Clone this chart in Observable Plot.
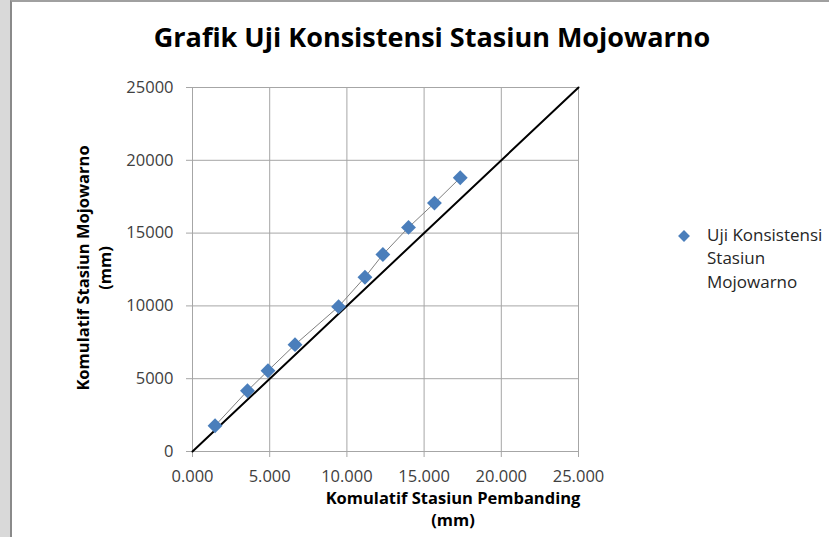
<!DOCTYPE html>
<html><head><meta charset="utf-8">
<script src="https://cdn.jsdelivr.net/npm/d3@7"></script>
<script src="https://cdn.jsdelivr.net/npm/@observablehq/plot@0.6"></script>
<style>
html,body{margin:0;padding:0;background:#fff;width:829px;height:537px;overflow:hidden;}
#strip{position:absolute;left:0;top:0;width:10px;height:537px;background:#d9d9d9;}
#frame{position:absolute;left:10px;top:0;width:819px;height:537px;border-left:2px solid #8a8a8a;border-top:2px solid #a0a0a0;box-sizing:border-box;background:#fff;}
#chart{position:absolute;left:0;top:0;}
</style></head>
<body><div id="strip"></div><div id="frame"></div><div id="chart"></div>
<script>
const title = "Grafik Uji Konsistensi Stasiun Mojowarno";
const legendLines = ["Uji Konsistensi", "Stasiun", "Mojowarno"];
const xTitle = ["Komulatif Stasiun Pembanding", "(mm)"];
const yTitle = ["Komulatif Stasiun Mojowarno", "(mm)"];
const komulatifPembanding = [1460, 3560, 4890, 6640, 9460, 11170, 12330, 13990, 15670, 17340];
const komulatifMojowarno = [1770, 4170, 5550, 7340, 9950, 11970, 13530, 15390, 17060, 18800];
const refX = [0, 25000];
const refY = [0, 25000];
const xTicks = [0, 5000, 10000, 15000, 20000, 25000];
const xTickLabels = ["0.000", "5.000", "10.000", "15.000", "20.000", "25.000"];
const yTicks = [0, 5000, 10000, 15000, 20000, 25000];
const yTickLabels = ["0", "5000", "10000", "15000", "20000", "25000"];

const data = komulatifPembanding.map((x, i) => ({x, y: komulatifMojowarno[i]}));
const ref = refX.map((x, i) => ({x, y: refY[i]}));
const font = "'Open Sans', sans-serif";
const gridColor = "#a6a6a6";
const textColor = "#404040";

const plot = Plot.plot({
  width: 829, height: 537,
  marginLeft: 192, marginRight: 251, marginTop: 87, marginBottom: 86,
  style: {fontFamily: font, fontSize: "16.5px", color: textColor, background: "transparent", overflow: "visible"},
  x: {domain: [0, 25000], label: null},
  y: {domain: [0, 25000], label: null},
  marks: [
    Plot.gridX(xTicks, {stroke: gridColor, strokeOpacity: 1}),
    Plot.gridY(yTicks, {stroke: gridColor, strokeOpacity: 1}),
    Plot.axisX(xTicks, {tickFormat: d => xTickLabels[xTicks.indexOf(d)], tickSize: 6, tickPadding: 13, stroke: gridColor, fill: textColor, label: null}),
    Plot.axisY(yTicks, {tickFormat: d => yTickLabels[yTicks.indexOf(d)], tickSize: 6, tickPadding: 13, stroke: gridColor, fill: textColor, label: null}),
    Plot.line(ref, {x: "x", y: "y", stroke: "#000", strokeWidth: 2}),
    Plot.line(data, {x: "x", y: "y", stroke: "#808080", strokeWidth: 1}),
    Plot.dot(data, {x: "x", y: "y", symbol: "diamond2", r: 6.7, fill: "#4a7ebb", stroke: "none"})
  ]
});
document.getElementById("chart").appendChild(plot);

const svg = d3.select(plot);
svg.append("text").attr("x", 432).attr("y", 40).attr("text-anchor", "middle").attr("dominant-baseline", "middle")
  .attr("font-family", font).attr("font-weight", "bold").attr("font-size", 27).attr("fill", "#000").text(title);

xTitle.forEach((t, i) => {
  svg.append("text").attr("x", 453).attr("y", 500 + i * 22).attr("text-anchor", "middle").attr("dominant-baseline", "middle")
    .attr("font-family", font).attr("font-weight", "bold").attr("font-size", 16.5).attr("fill", "#000").text(t);
});
yTitle.forEach((t, i) => {
  svg.append("text").attr("transform", `translate(${85 + i * 22},268) rotate(-90)`).attr("text-anchor", "middle").attr("dominant-baseline", "middle")
    .attr("font-family", font).attr("font-weight", "bold").attr("font-size", 16.5).attr("fill", "#000").text(t);
});

svg.append("path").attr("transform", "translate(684,236)").attr("d", d3.symbol(d3.symbolDiamond2, 90)()).attr("fill", "#4a7ebb");
legendLines.forEach((t, i) => {
  svg.append("text").attr("x", 707).attr("y", 236 + i * 23.5).attr("text-anchor", "start").attr("dominant-baseline", "middle")
    .attr("font-family", font).attr("font-size", 17).attr("fill", "#262626").text(t);
});
</script>
</body></html>
